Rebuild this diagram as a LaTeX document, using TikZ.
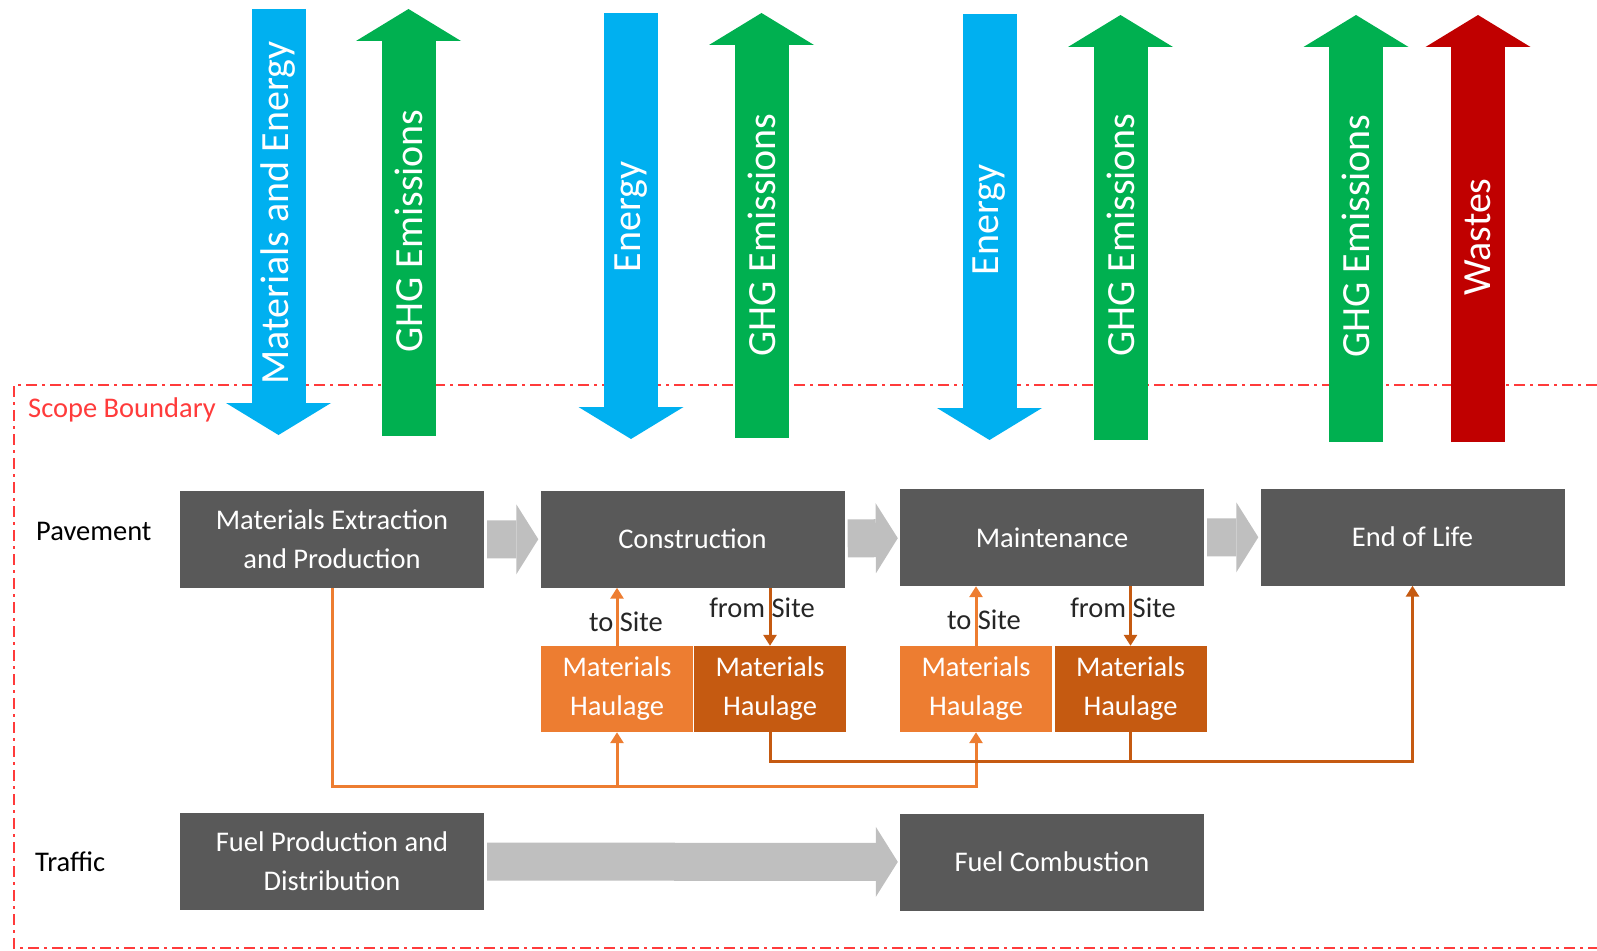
\documentclass[tikz,border=0pt]{standalone}
\usepackage{fontspec}
\setmainfont{Carlito}
\usetikzlibrary{arrows.meta,positioning,calc}

\definecolor{boxgray}{HTML}{595959}
\definecolor{flowgray}{HTML}{BFBFBF}
\definecolor{inblue}{HTML}{00B0F0}
\definecolor{ghggreen}{HTML}{00B050}
\definecolor{wastered}{HTML}{C00000}
\definecolor{haullight}{HTML}{ED7D31}
\definecolor{hauldark}{HTML}{C55A11}
\definecolor{scopered}{HTML}{FF3B3B}

\tikzset{
	stage/.style={rectangle, fill=boxgray, text=white, minimum width=304pt, minimum height=97pt,
		inner sep=0pt, align=center, font=\fontsize{28.5}{39}\selectfont},
	haulage/.style={rectangle, text=white, minimum width=152pt, minimum height=86pt,
		inner sep=0pt, align=center, font=\fontsize{28.5}{39}\selectfont},
	sidetext/.style={inner sep=0pt, font=\fontsize{28.5}{39}\selectfont},
	stageflow/.style={draw=flowgray, line width=38pt, -{Triangle[length=22pt,width=70pt,line width=0pt]},
		shorten <=3pt, shorten >=2pt},
	bigflow/.style={line width=54pt, -{Triangle[length=32pt,width=105pt,line width=0pt]}},
	flowtext/.style={rotate=90, text=white, inner sep=0pt, font=\fontsize{40}{48}\selectfont},
	haul/.style={line width=3pt, -{Triangle[length=11pt,width=13pt]}}
}

\begin{document}
\begin{tikzpicture}[x=1pt,y=-1pt]
\useasboundingbox (0,0) rectangle (1597,950);

% scope boundary
\draw[scopered, line width=2.5pt, dash pattern=on 11pt off 5pt on 3pt off 5pt]
	(1597,385) -| (14,948) -- (1597,948);
\node[sidetext, anchor=west, text=scopered] (scope) at (28,410) {Scope Boundary};

% inputs and outputs
\coordinate (me top) at (278.5,9);    \coordinate (me tip) at (278.5,435);
\coordinate (g1 foot) at (408.5,436); \coordinate (g1 tip) at (408.5,9);
\coordinate (e1 top) at (631,13);     \coordinate (e1 tip) at (631,439);
\coordinate (g2 foot) at (761.5,438); \coordinate (g2 tip) at (761.5,13);
\coordinate (e2 top) at (989.5,14);   \coordinate (e2 tip) at (989.5,440);
\coordinate (g3 foot) at (1120.5,440);\coordinate (g3 tip) at (1120.5,15);
\coordinate (g4 foot) at (1356,442);  \coordinate (g4 tip) at (1356,15);
\coordinate (w foot) at (1478,442);   \coordinate (w tip) at (1478,15);

\draw[bigflow, draw=inblue] (me top) -- (me tip);
\draw[bigflow, draw=ghggreen] (g1 foot) -- (g1 tip);
\draw[bigflow, draw=inblue] (e1 top) -- (e1 tip);
\draw[bigflow, draw=ghggreen] (g2 foot) -- (g2 tip);
\draw[bigflow, draw=inblue] (e2 top) -- (e2 tip);
\draw[bigflow, draw=ghggreen] (g3 foot) -- (g3 tip);
\draw[bigflow, draw=ghggreen] (g4 foot) -- (g4 tip);
\draw[bigflow, draw=wastered] (w foot) -- (w tip);

\node[flowtext] (me txt) at (278.5,213) {Materials and Energy};
\node[flowtext] (g1 txt) at (408.5,231) {GHG Emissions};
\node[flowtext] (e1 txt) at (631,217) {Energy};
\node[flowtext] (g2 txt) at (761.5,235) {GHG Emissions};
\node[flowtext] (e2 txt) at (989.5,220) {Energy};
\node[flowtext] (g3 txt) at (1120.5,235) {GHG Emissions};
\node[flowtext] (g4 txt) at (1356,236) {GHG Emissions};
\node[flowtext] (w txt) at (1478,237) {Wastes};

% life cycle stages
\node[sidetext, anchor=west] (pave) at (36,531) {Pavement};
\node[sidetext, anchor=west] (traffic) at (35,862) {Traffic};

\node[stage] (mep) at (332,539.5) {Materials Extraction\\and Production};
\node[stage] (con) at (692.5,539) {Construction};
\node[stage] (mnt) at (1052,537.5) {Maintenance};
\node[stage] (eol) at (1412.5,537) {End of Life};
\node[stage] (fpd) at (332,861.5) {Fuel Production and\\Distribution};
\node[stage] (fcb) at (1052,862) {Fuel Combustion};

\node[haulage, fill=haullight] (hz1) at (617,689) {Materials\\Haulage};
\node[haulage, fill=hauldark] (hz2) at (770,689) {Materials\\Haulage};
\node[haulage, fill=haullight] (hz3) at (976,689) {Materials\\Haulage};
\node[haulage, fill=hauldark] (hz4) at (1130.5,689) {Materials\\Haulage};

\node[sidetext, text=black!85] (to1) at (626,622) {to Site};
\node[sidetext, text=black!85] (from1) at (762,608) {from Site};
\node[sidetext, text=black!85] (to2) at (984,620) {to Site};
\node[sidetext, text=black!85] (from2) at (1123,608) {from Site};

\draw[stageflow] (mep) -- (con);
\draw[stageflow] (con) -- (mnt);
\draw[stageflow] (mnt) -- (eol);
\draw[stageflow] (fpd) -- (fcb);

% haulage
\coordinate (rawbus) at (0,786);
\coordinate (eolbus) at (0,761);
\draw[haul, draw=haullight] (hz1.north) -- (hz1.north |- con.south);
\draw[haul, draw=hauldark] (hz2.north |- con.south) -- (hz2.north);
\draw[haul, draw=haullight] (hz3.north) -- (hz3.north |- mnt.south);
\draw[haul, draw=hauldark] (hz4.north |- mnt.south) -- (hz4.north);

\draw[haul, draw=haullight] (mep.south) |- (hz3.south |- rawbus) -- (hz3.south);
\draw[haul, draw=haullight] (hz1.south |- rawbus) -- (hz1.south);
\draw[haul, draw=hauldark] (hz2.south) |- (eol.south |- eolbus) -- (eol.south);
\draw[line width=3pt, draw=hauldark] (hz4.south) -- (hz4.south |- eolbus);

\end{tikzpicture}
\end{document}
